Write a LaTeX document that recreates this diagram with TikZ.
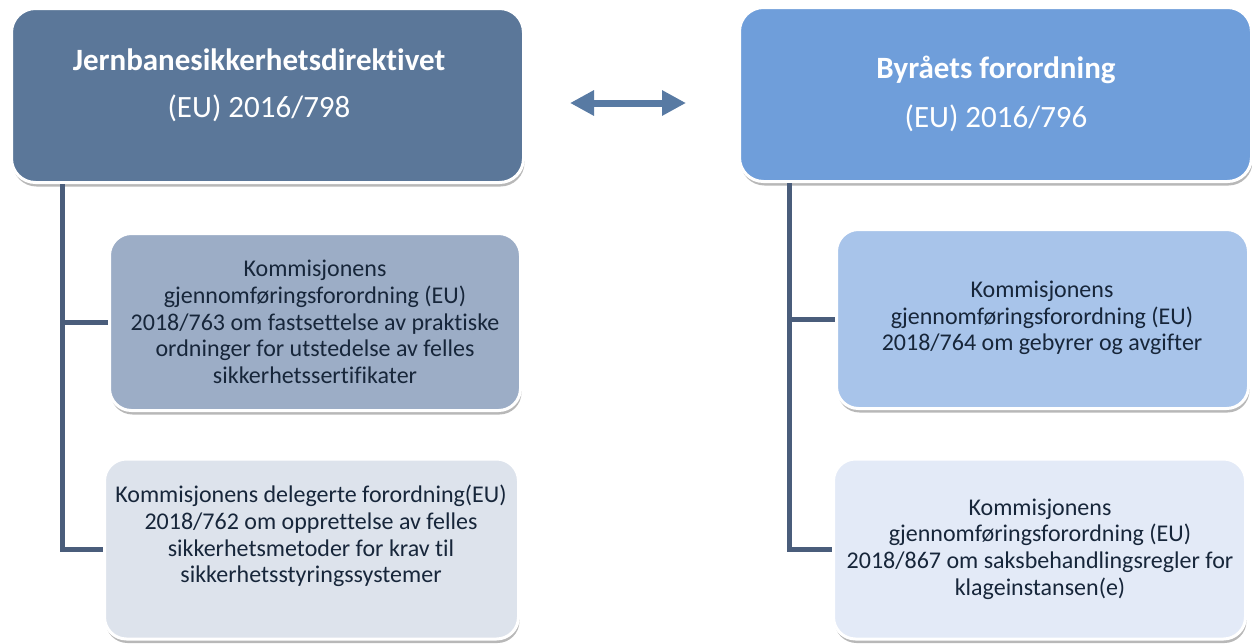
\documentclass[tikz,border=0pt]{standalone}
\usepackage{fontspec}
\setmainfont[Ligatures={NoCommon}]{Carlito}
\usetikzlibrary{arrows.meta,shadows}
\definecolor{darkbox}{HTML}{5B7799}
\definecolor{bluebox}{HTML}{6F9EDA}
\definecolor{midleft}{HTML}{9CADC6}
\definecolor{lowleft}{HTML}{DDE3EC}
\definecolor{midright}{HTML}{A8C4EA}
\definecolor{lowright}{HTML}{E3EAF7}
\definecolor{connc}{HTML}{4A5D7B}
\definecolor{arrowc}{HTML}{587AA3}
\definecolor{inktext}{HTML}{17263A}
\begin{document}
\begin{tikzpicture}[x=1pt,y=-1pt,
  box/.style={draw=white, line width=3pt, rounded corners=24pt, inner sep=0pt,
    drop shadow={shadow xshift=1pt, shadow yshift=-4pt, fill=black, opacity=0.28}},
  subbox/.style={box, rounded corners=22pt},
  title/.style={text=white, align=center, inner sep=0pt},
  subtext/.style={text=inktext, align=center, inner sep=0pt, font=\fontsize{24}{26.7}\selectfont},
  conn/.style={draw=connc, line width=5pt},
  dbl/.style={draw=arrowc, line width=7pt, {Triangle[width=24pt,length=24pt]}-{Triangle[width=24pt,length=24pt]}}]
\useasboundingbox (0,0) rectangle (1252,643);
% top boxes
\node[box, fill=darkbox, minimum width=512pt, minimum height=174pt] (tl) at (267.5,95.5) {};
\node[box, fill=bluebox, minimum width=512pt, minimum height=174pt] (tr) at (995.5,94.5) {};
% sub boxes
\node[subbox, fill=midleft, minimum width=411pt, minimum height=177pt] (ml) at (315,322) {};
\node[subbox, fill=lowleft, minimum width=414pt, minimum height=180pt] (bl) at (311.5,549) {};
\node[subbox, fill=midright, minimum width=412pt, minimum height=179pt] (mr) at (1042.5,319) {};
\node[subbox, fill=lowright, minimum width=412pt, minimum height=180pt] (br) at (1039.5,549) {};
% titles
\node[title, font=\fontsize{31}{36}\selectfont\bfseries] (tlh) at (259,60) {Jernbanesikkerhetsdirektivet};
\node[title, font=\fontsize{31}{36}\selectfont] (tln) at (259,108) {(EU) 2016/798};
\node[title, font=\fontsize{31}{36}\selectfont\bfseries] (trh) at (996,70) {Byråets forordning};
\node[title, font=\fontsize{31}{36}\selectfont] (trn) at (996,118) {(EU) 2016/796};
% sub texts
\node[subtext] (mlt) at (315,322) {Kommisjonens\\gjennomføringsforordning (EU)\\2018/763 om fastsettelse av praktiske\\ordninger for utstedelse av felles\\sikkerhetssertifikater};
\node[subtext] (blt) at (311,536) {Kommisjonens delegerte forordning(EU)\\2018/762 om opprettelse av felles\\sikkerhetsmetoder for krav til\\sikkerhetsstyringssystemer};
\node[subtext] (mrt) at (1042,318) {Kommisjonens\\gjennomføringsforordning (EU)\\2018/764 om gebyrer og avgifter};
\node[subtext] (brt) at (1040,549) {Kommisjonens\\gjennomføringsforordning (EU)\\2018/867 om saksbehandlingsregler for\\klageinstansen(e)};
% connectors
\draw[conn] ([xshift=52pt]tl.south west) |- (bl.west);
\draw[conn] ([xshift=52pt]tl.south west |- ml.west) -- (ml.west);
\draw[conn] ([xshift=51pt]tr.south west) |- (br.west);
\draw[conn] ([xshift=51pt]tr.south west |- mr.west) -- (mr.west);
% double arrow
\coordinate (al) at (570,103);
\coordinate (ar) at (686,103);
\draw[dbl] (al) -- (ar);
\end{tikzpicture}
\end{document}
